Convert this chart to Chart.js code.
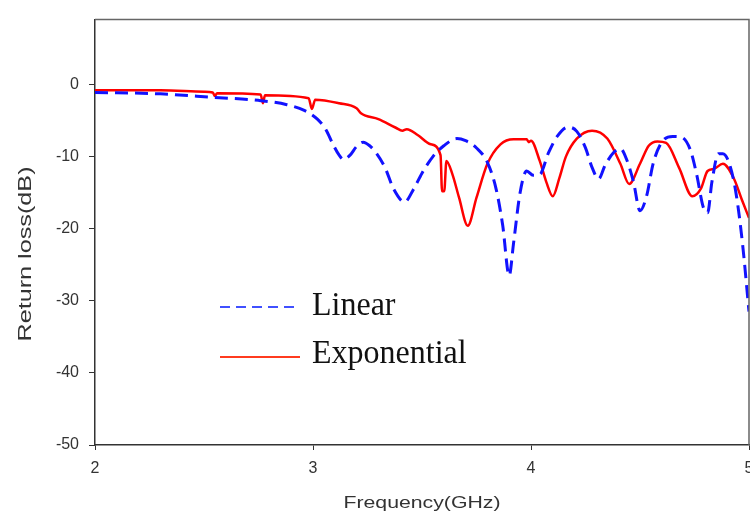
<!DOCTYPE html>
<html>
<head>
<meta charset="utf-8">
<script src="https://cdn.jsdelivr.net/npm/chart.js@4.4.0/dist/chart.umd.min.js"></script>
<style>
    body { margin: 0; background: #fff; }
    #wrap { width: 750px; height: 516px; }
</style>
</head>
<body>
<div id="wrap"><canvas id="returnLossChart" width="750" height="516"></canvas></div>
<script>
// Return loss vs frequency

const linearFreq = [2.00, 2.30, 2.55, 2.75, 2.88, 2.96, 3.02, 3.06, 3.09, 3.12, 3.14, 3.17, 3.20, 3.23, 3.26, 3.29,
    3.33, 3.37, 3.42, 3.46, 3.50, 3.55, 3.60, 3.66, 3.70, 3.75, 3.80, 3.84, 3.87, 3.90, 3.92, 3.95, 3.98,
    4.01, 4.04, 4.08, 4.12, 4.17, 4.21, 4.25, 4.28, 4.31, 4.34, 4.38, 4.41, 4.44, 4.47, 4.50, 4.53, 4.56,
    4.60, 4.65, 4.69, 4.73, 4.76, 4.79, 4.81, 4.83, 4.86, 4.88, 4.91, 4.94, 4.97, 5.00];
const linearLoss = [-1.1, -1.3, -1.8, -2.2, -2.8, -3.6, -4.8, -6.3, -8.2, -9.8, -10.4, -9.8, -8.6, -8.0, -8.5, -9.5,
    -11.5, -14.5, -16.3, -14.6, -12.3, -10.0, -8.5, -7.5, -7.8, -8.8, -10.8, -14.5, -19.5, -26.5, -22.0, -15.0, -12.0,
    -12.6, -12.5, -9.5, -7.2, -5.9, -6.5, -8.8, -11.5, -13.1, -11.2, -9.4, -8.9, -10.5, -13.5, -17.5, -15.5, -11.0,
    -8.0, -7.2, -7.3, -9.0, -12.5, -17.0, -17.8, -13.5, -9.6, -9.6, -11.0, -15.0, -22.0, -31.5];

const expFreq = [2.00, 2.30, 2.50, 2.54, 2.55, 2.56, 2.76, 2.77, 2.78, 2.98, 2.995, 3.01, 3.12, 3.20, 3.22, 3.30,
    3.38, 3.41, 3.43, 3.48, 3.54, 3.585, 3.592, 3.602, 3.612, 3.64, 3.67, 3.71, 3.75, 3.80, 3.86, 3.92, 3.98,
    3.99, 4.00, 4.04, 4.07, 4.10, 4.13, 4.16, 4.21, 4.28, 4.35, 4.41, 4.45, 4.50, 4.54, 4.58, 4.62, 4.68,
    4.74, 4.78, 4.81, 4.84, 4.88, 4.93, 4.97, 5.00];
const expLoss = [-0.8, -0.8, -1.0, -1.1, -1.6, -1.2, -1.4, -2.6, -1.5, -1.9, -3.4, -2.1, -2.6, -3.3, -4.0, -4.8,
    -6.0, -6.4, -6.2, -7.0, -8.3, -9.8, -14.8, -14.8, -10.6, -12.5, -15.7, -19.6, -15.7, -11.0, -8.3, -7.6, -7.6,
    -8.0, -7.8, -10.6, -13.5, -15.5, -13.0, -10.0, -7.5, -6.4, -7.5, -11.0, -13.8, -11.0, -8.5, -7.9, -8.1, -11.6,
    -15.5, -14.4, -12.0, -11.7, -11.0, -13.0, -16.2, -18.5];

const seriesNames = ['Linear', 'Exponential'];
const xTicks = [2, 3, 4, 5];
const yTicks = [-50, -40, -30, -20, -10, 0];
const xTitle = 'Frequency(GHz)';
const yTitle = 'Return loss(dB)';

function toPoints(freq, loss) {
    return freq.map((f, i) => ({ x: f, y: loss[i] }));
}

// draw text squeezed/stretched horizontally
function drawScaledText(ctx, text, x, y, sx, align) {
    ctx.save();
    ctx.translate(x, y);
    ctx.scale(sx, 1);
    ctx.textAlign = align || 'left';
    ctx.fillText(text, 0, 0);
    ctx.restore();
}

const decorations = {
    id: 'decorations',
    afterDraw(chart) {
        const ctx = chart.ctx;
        const a = chart.chartArea;

        // frame round the plot
        ctx.save();
        ctx.strokeStyle = '#666';
        ctx.lineWidth = 1.5;
        ctx.beginPath();
        ctx.moveTo(a.left, a.top);
        ctx.lineTo(a.right, a.top);
        ctx.lineTo(a.right, a.bottom);
        ctx.stroke();
        ctx.restore();

        // axis titles
        ctx.save();
        ctx.fillStyle = '#333';
        ctx.textBaseline = 'alphabetic';
        ctx.font = '17px "Liberation Sans", Arial, sans-serif';
        drawScaledText(ctx, xTitle, 422, 508, 1.25, 'center');

        ctx.translate(31, 254);
        ctx.rotate(-Math.PI / 2);
        ctx.font = '18px "Liberation Sans", Arial, sans-serif';
        drawScaledText(ctx, yTitle, 0, 0, 1.4, 'center');
        ctx.restore();

        // legend inside the plot
        ctx.save();
        ctx.lineWidth = 2;
        ctx.strokeStyle = '#4050ff';
        ctx.setLineDash([10, 6]);
        ctx.beginPath();
        ctx.moveTo(220, 307);
        ctx.lineTo(298, 307);
        ctx.stroke();

        ctx.setLineDash([]);
        ctx.strokeStyle = '#ff3b1f';
        ctx.beginPath();
        ctx.moveTo(220, 357);
        ctx.lineTo(300, 357);
        ctx.stroke();

        ctx.fillStyle = '#111';
        ctx.font = '33px "Liberation Serif", "Times New Roman", serif';
        drawScaledText(ctx, seriesNames[0], 312, 315, 0.97);
        drawScaledText(ctx, seriesNames[1], 312, 363, 0.97);
        ctx.restore();
    }
};

const ctx = document.getElementById('returnLossChart').getContext('2d');

new Chart(ctx, {
    type: 'line',
    data: {
        datasets: [
            {
                label: seriesNames[0],
                data: toPoints(linearFreq, linearLoss),
                borderColor: '#1212ff',
                borderWidth: 3,
                borderDash: [13, 7],
                pointRadius: 0,
                cubicInterpolationMode: 'monotone',
                fill: false
            },
            {
                label: seriesNames[1],
                data: toPoints(expFreq, expLoss),
                borderColor: '#ff0000',
                borderWidth: 2.5,
                pointRadius: 0,
                cubicInterpolationMode: 'monotone',
                fill: false
            }
        ]
    },
    options: {
        responsive: false,
        animation: false,
        layout: { padding: { top: 18, right: 1, left: 0, bottom: 0 } },
        plugins: {
            legend: { display: false },
            tooltip: { enabled: false }
        },
        scales: {
            x: {
                type: 'linear',
                min: 2,
                max: 5,
                afterBuildTicks: scale => { scale.ticks = xTicks.map(v => ({ value: v })); },
                afterFit: scale => {
                    scale.height = 71;
                    scale.paddingLeft = 0;
                    scale.paddingRight = 0;
                },
                grid: { drawOnChartArea: false, drawTicks: true, tickLength: 5, color: '#333' },
                border: { display: true, color: '#333', width: 1.5 },
                ticks: {
                    color: '#333',
                    padding: 9,
                    maxRotation: 0,
                    font: { family: "'Liberation Sans', Arial, sans-serif", size: 16 }
                }
            },
            y: {
                type: 'linear',
                min: -50,
                max: 9,
                afterBuildTicks: scale => { scale.ticks = yTicks.map(v => ({ value: v })); },
                afterFit: scale => { scale.width = 95; },
                grid: { drawOnChartArea: false, drawTicks: true, tickLength: 6, color: '#333' },
                border: { display: true, color: '#333', width: 1.5 },
                ticks: {
                    color: '#333',
                    padding: 10,
                    font: { family: "'Liberation Sans', Arial, sans-serif", size: 16 }
                }
            }
        }
    },
    plugins: [decorations]
});
</script>
</body>
</html>
